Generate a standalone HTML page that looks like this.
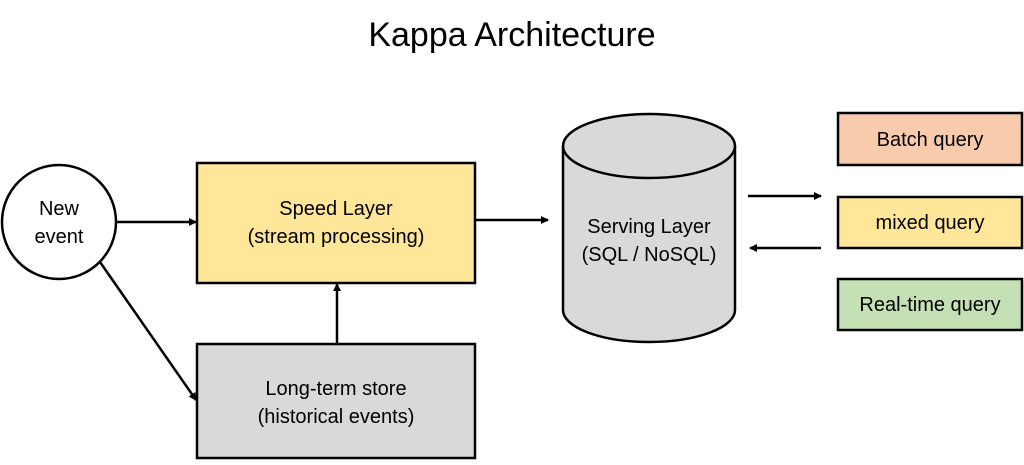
<!DOCTYPE html>
<html><head><style>
body{margin:0;background:#fff;}
svg text{font-family:"Liberation Sans",sans-serif;fill:#000;}
</style></head><body>
<svg width="1024" height="460" viewBox="0 0 1024 460" xmlns="http://www.w3.org/2000/svg">
<defs><marker id="a" markerWidth="8" markerHeight="8" refX="7" refY="4" orient="auto" markerUnits="userSpaceOnUse"><path d="M0,0 L8,4 L0,8 z" fill="#000"/></marker></defs>
<text x="512" y="46" font-size="34" text-anchor="middle">Kappa Architecture</text>
<circle cx="59" cy="222" r="57" fill="#fff" stroke="#000" stroke-width="2.5"/>
<text x="59" y="215" font-size="20" text-anchor="middle">New</text>
<text x="59" y="243" font-size="20" text-anchor="middle">event</text>
<rect x="197" y="163" width="278" height="120" fill="#ffe699" stroke="#000" stroke-width="2.5"/>
<text x="336" y="215" font-size="20" text-anchor="middle">Speed Layer</text>
<text x="336" y="243" font-size="20" text-anchor="middle">(stream processing)</text>
<rect x="197" y="344" width="278" height="114" fill="#d9d9d9" stroke="#000" stroke-width="2.5"/>
<text x="336" y="395" font-size="20" text-anchor="middle">Long-term store</text>
<text x="336" y="423" font-size="20" text-anchor="middle">(historical events)</text>
<path d="M563,146 L563,310 A86,32 0 0 0 735,310 L735,146" fill="#d9d9d9" stroke="#000" stroke-width="2.5"/>
<ellipse cx="649" cy="146" rx="86" ry="32" fill="#d9d9d9" stroke="#000" stroke-width="2.5"/>
<text x="649" y="233" font-size="20" text-anchor="middle">Serving Layer</text>
<text x="649" y="261" font-size="20" text-anchor="middle">(SQL / NoSQL)</text>
<rect x="838" y="113" width="184" height="52" fill="#f8cbad" stroke="#000" stroke-width="2.5"/>
<text x="930" y="146" font-size="20" text-anchor="middle">Batch query</text>
<rect x="838" y="197" width="184" height="51" fill="#ffe699" stroke="#000" stroke-width="2.5"/>
<text x="930" y="229" font-size="20" text-anchor="middle">mixed query</text>
<rect x="838" y="279" width="184" height="51" fill="#c5e0b4" stroke="#000" stroke-width="2.5"/>
<text x="930" y="311" font-size="20" text-anchor="middle">Real-time query</text>
<g stroke="#000" stroke-width="2.5" marker-end="url(#a)">
<line x1="116" y1="222" x2="196" y2="222"/>
<line x1="475" y1="220" x2="548" y2="220"/>
<line x1="337" y1="344" x2="337" y2="284"/>
<line x1="100" y1="262" x2="196" y2="400"/>
<line x1="748" y1="196" x2="821" y2="196"/>
<line x1="821" y1="248" x2="750" y2="248"/>
</g>
</svg>
</body></html>
